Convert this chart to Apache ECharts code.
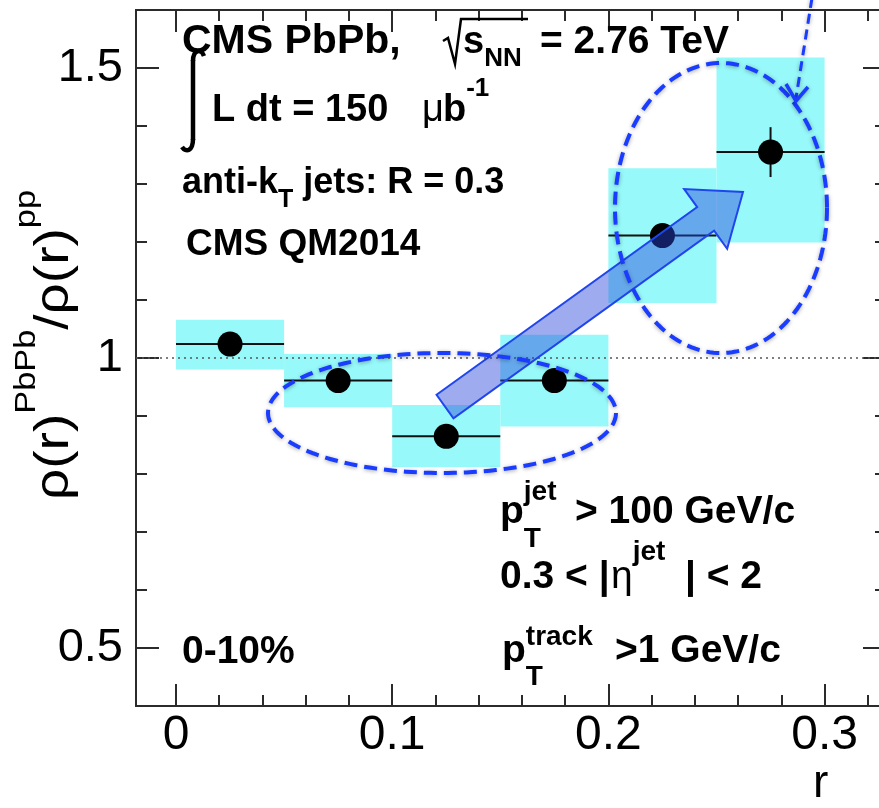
<!DOCTYPE html>
<html><head><meta charset="utf-8">
<script src="https://cdn.jsdelivr.net/npm/echarts@6/dist/echarts.min.js"></script>
<style>html,body{margin:0;padding:0;overflow:hidden;background:#fff;width:879px;height:808px}#c{width:900px;height:808px}</style>
</head><body><div id="c"></div><script>
// ---- data ----
const binLow   = [0.00, 0.05, 0.10, 0.15, 0.20, 0.25];
const binHigh  = [0.05, 0.10, 0.15, 0.20, 0.25, 0.30];
const rCenter  = [0.025, 0.075, 0.125, 0.175, 0.225, 0.275];
const ratio    = [1.024, 0.961, 0.865, 0.961, 1.211, 1.355];
const statErr  = [0.012, 0.012, 0.012, 0.014, 0.016, 0.043];
const sysLow   = [0.980, 0.915, 0.812, 0.882, 1.095, 1.199];
const sysHigh  = [1.066, 1.007, 0.919, 1.040, 1.327, 1.518];
const xMajorTicks = [0, 0.1, 0.2, 0.3];
const xMinorTicks = [0.02,0.04,0.06,0.08,0.12,0.14,0.16,0.18,0.22,0.24,0.26,0.28,0.32];
const yMajorTicks = [0.5, 1, 1.5];
const yMinorTicks = [0.6,0.7,0.8,0.9,1.1,1.2,1.3,1.4];
const refLine = 1;

const X_MIN = -0.0185, X_MAX = 0.3284, Y_MIN = 0.4, Y_MAX = 1.6;
const FONT = '"Liberation Sans", Arial, Helvetica, sans-serif';
const AX = '#2b2b2b';
const CYAN = '#97f9f9';
const BLUE = '#1a3cff';

const chart = echarts.init(document.getElementById('c'), null, {renderer:'canvas'});

function xAxisDef(pos, ticks, len, showLabel){
  return {type:'value', position:pos, min:X_MIN, max:X_MAX,
    axisLine:{show:true,onZero:false,lineStyle:{color:AX,width:2}},
    axisTick:{show:true,inside:true,length:len,customValues:ticks,lineStyle:{color:AX,width:2}},
    axisLabel:{show:showLabel, customValues:ticks, margin:6, fontSize:48, fontFamily:FONT, color:'#000', formatter:v=>String(v)},
    splitLine:{show:false}};
}
function yAxisDef(pos, ticks, len, showLabel){
  return {type:'value', position:pos, min:Y_MIN, max:Y_MAX,
    axisLine:{show:true,onZero:false,lineStyle:{color:AX,width:2}},
    axisTick:{show:true,inside:true,length:len,customValues:ticks,lineStyle:{color:AX,width:2}},
    axisLabel:{show:showLabel, customValues:ticks, margin:13, fontSize:47, fontFamily:FONT, color:'#000', formatter:v=>String(v)},
    splitLine:{show:false}};
}

// text helpers
const mctx = document.createElement('canvas').getContext('2d');
function fontStr(size,bold){ return (bold?'bold ':'')+size+'px '+FONT; }
function tw(t,size,bold){ mctx.font = fontStr(size,bold); return mctx.measureText(t).width; }
function T(text,x,base,size,bold){
  return {type:'text', x:x, y:base-0.276*size, z:100,
    style:{text:text, font:fontStr(size,bold), fill:'#000', align:'left', verticalAlign:'middle', textAlign:'left', textVerticalAlign:'middle'}};
}
function flow(x0, base, parts){
  const out=[]; let x=x0; let stackW=0;
  parts.forEach(p=>{
    const px = (p.x!==undefined)? p.x : x;
    out.push(T(p.t, px, base+(p.dy||0), p.s, p.b!==false));
    const w = tw(p.t,p.s,p.b!==false);
    if(p.stack){ stackW=Math.max(stackW,w); x=px; }
    else { x = px + Math.max(w, stackW); stackW=0; }
  });
  return out;
}

const texts = [];
texts.push(...flow(182,53,[{t:'CMS PbPb,',s:41}]));
texts.push(...flow(463,53,[{t:'s',s:38},{t:'NN',s:26,dy:13},{t:'= 2.76 TeV',s:39,x:540}]));
texts.push(...flow(212,121,[{t:'L dt = 150',s:38},{t:'\u03bc',s:38,b:false,x:422},{t:'b',s:38,x:443},{t:'-1',s:26,dy:-25}]));
texts.push(...flow(182,193,[{t:'anti-k',s:36},{t:'T',s:25,dy:14},{t:' jets: R = 0.3',s:36}]));
texts.push(...flow(186,255,[{t:'CMS QM2014',s:37}]));
texts.push(...flow(182,663,[{t:'0-10%',s:39}]));
texts.push(...flow(500,523,[{t:'p',s:39},{t:'jet',s:28,dy:-23,stack:true},{t:'T',s:28,dy:24},{t:'> 100 GeV/c',s:39,x:575}]));
texts.push(...flow(500,588,[{t:'0.3 < |',s:39},{t:'\u03b7',s:39,b:false,x:611},{t:'jet',s:28,dy:-28},{t:'| < 2',s:39,x:685}]));
texts.push(...flow(502,662,[{t:'p',s:39},{t:'track',s:28,dy:-17,stack:true},{t:'T',s:28,dy:23},{t:'>1 GeV/c',s:39,x:615}]));
texts.push(T('r',813,797,46,false));

// y-axis title (rotated)
const yParts = [{t:'\u03c1(r)',s:48,dy:0},{t:'PbPb',s:30,dy:-33},{t:'/',s:48,dy:0},{t:'\u03c1(r)',s:48,dy:0},{t:'pp',s:30,dy:-33}];
let yx=0; const yChildren=[];
yParts.forEach(p=>{ const e=T(p.t,yx,p.dy,p.s,false); yChildren.push(e); yx+=tw(p.t,p.s,false); });
const yScale = 310/yx;
const yTitle = {type:'group', x:68, y:500, rotation:Math.PI/2, scaleX:yScale, z:100, children:yChildren};

// integral and sqrt
const blk = {fill:'none',stroke:'#000',lineWidth:4.5};
const deco = [
  {type:'bezierCurve', z:100, shape:{x1:204,y1:56,cpx1:201,cpy1:48,cpx2:193,cpy2:50,x2:193,y2:61}, style:blk},
  {type:'line', z:100, shape:{x1:193,y1:60,x2:193,y2:140}, style:blk},
  {type:'bezierCurve', z:100, shape:{x1:193,y1:139,cpx1:193,cpy1:151,cpx2:186,cpy2:153,x2:182,y2:147}, style:blk},
  {type:'polyline', z:100, shape:{points:[[443,41],[448,38],[455,64],[461,19],[528,19]]}, style:{fill:'none',stroke:'#000',lineWidth:2.5}}
];

function arrowPts(S, tip, halfW, headHalfW, headLen){
  const dx=tip[0]-S[0], dy=tip[1]-S[1]; const L=Math.hypot(dx,dy); const u=[dx/L,dy/L]; const n=[-u[1],u[0]];
  const M=[tip[0]-u[0]*headLen, tip[1]-u[1]*headLen];
  const P=(b,k)=>[b[0]+n[0]*k, b[1]+n[1]*k];
  return [P(S,-halfW),P(M,-halfW),P(M,-headHalfW),tip,P(M,headHalfW),P(M,halfW),P(S,halfW)];
}
function ellipsePts(cx,cy,rx,ry){ const p=[]; for(let i=0;i<=180;i++){ const a=i/180*2*Math.PI; p.push([cx+rx*Math.cos(a), cy+ry*Math.sin(a)]); } return p; }
const shadow = {shadowBlur:4, shadowColor:'rgba(0,0,0,0.35)', shadowOffsetY:1};
const annots = [
  {type:'polygon', z:110, shape:{points:ellipsePts(442,413,174,60)}, style:Object.assign({fill:'none',stroke:BLUE,lineWidth:4,lineDash:[13,7]},shadow)},
  {type:'polygon', z:110, shape:{points:ellipsePts(721,208,106,145)}, style:Object.assign({fill:'none',stroke:BLUE,lineWidth:4,lineDash:[13,7]},shadow)},
  {type:'polygon', z:105, shape:{points:arrowPts([445,406.5],[743,192],14.5,36.8,46)}, style:{fill:'rgba(40,70,220,0.45)',stroke:'#1f45ee',lineWidth:2}},
  {type:'polyline', z:110, shape:{points:[[812,-2],[796,98]]}, style:Object.assign({fill:'none',stroke:BLUE,lineWidth:3,lineDash:[10,6]},shadow)},
  {type:'polyline', z:110, shape:{points:[[786,84],[796,101],[808,87]]}, style:Object.assign({fill:'none',stroke:BLUE,lineWidth:3.5},shadow)}
];

const boxData = binLow.map((v,i)=>[binLow[i],binHigh[i],sysLow[i],sysHigh[i]]);
const errData = rCenter.map((v,i)=>[rCenter[i],ratio[i],binLow[i],binHigh[i],statErr[i]]);
const ptData  = rCenter.map((v,i)=>[rCenter[i],ratio[i]]);

chart.setOption({
  animation:false,
  backgroundColor:'#fff',
  grid:{left:136, top:10, right:14, bottom:102, containLabel:false},
  xAxis:[xAxisDef('bottom',xMajorTicks,22,true), xAxisDef('bottom',xMinorTicks,11,false), xAxisDef('top',xMajorTicks,22,false), xAxisDef('top',xMinorTicks,11,false)],
  yAxis:[yAxisDef('left',yMajorTicks,23,true), yAxisDef('left',yMinorTicks,11,false), yAxisDef('right',yMajorTicks,23,false), yAxisDef('right',yMinorTicks,11,false)],
  series:[
    {type:'custom', name:'sys', data:boxData, z:1, encode:{x:[0,1],y:[2,3]},
     renderItem:(params,api)=>{
       const p0=api.coord([api.value(0),api.value(3)]); const p1=api.coord([api.value(1),api.value(2)]);
       return {type:'rect', shape:{x:p0[0],y:p0[1],width:p1[0]-p0[0],height:p1[1]-p0[1]}, style:{fill:CYAN}};
     },
     markLine:{silent:true, symbol:['none','none'], label:{show:false}, lineStyle:{type:[2,4],color:'#555',width:1.5}, data:[{yAxis:refLine}], z:3}
    },
    {type:'custom', name:'err', data:errData, z:4, encode:{x:[0,2,3],y:1},
     renderItem:(params,api)=>{
       const x=api.value(0), y=api.value(1), lo=api.value(2), hi=api.value(3), e=api.value(4);
       const a=api.coord([lo,y]), b=api.coord([hi,y]), c=api.coord([x,y-e]), d=api.coord([x,y+e]);
       const st={stroke:'#111',lineWidth:2};
       return {type:'group', children:[
         {type:'line', shape:{x1:a[0],y1:a[1],x2:b[0],y2:b[1]}, style:st},
         {type:'line', shape:{x1:c[0],y1:c[1],x2:d[0],y2:d[1]}, style:st}]};
     }},
    {type:'scatter', name:'ratio', data:ptData, symbol:'circle', symbolSize:25, itemStyle:{color:'#000', opacity:1}, emphasis:{disabled:true}, z:6}
  ],
  graphic:{elements:[...texts, yTitle, ...deco, ...annots]}
});
</script></body></html>
